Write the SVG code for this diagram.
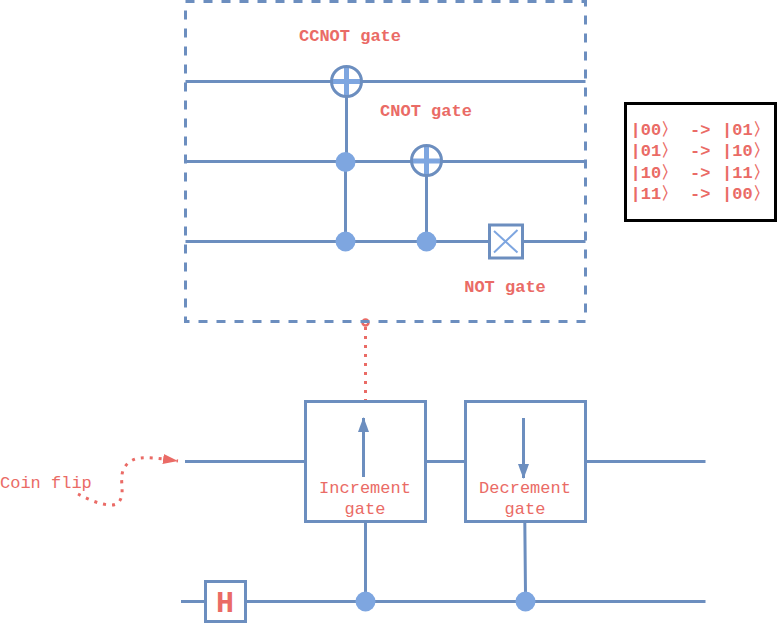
<svg xmlns="http://www.w3.org/2000/svg" width="778" height="623" viewBox="0 0 778 623">
<defs>
<marker id="tri" markerUnits="userSpaceOnUse" markerWidth="17" markerHeight="12" refX="14" refY="5.500" orient="auto"><path d="M0 0L15 5.500L0 11Z" fill="#6c8ebf" stroke="none"/></marker>
<marker id="trired" markerUnits="userSpaceOnUse" markerWidth="18" markerHeight="12" refX="15" refY="6" orient="auto"><path d="M0 1L15 6L0 11Z" fill="#ea6b66" stroke="none"/></marker>
</defs>
<style>
.w{fill:none;stroke:#6c8ebf;stroke-width:3}
.b{fill:#fff;stroke:#6c8ebf;stroke-width:3}
.d{fill:#7ea6e0;stroke:none}
.p{fill:none;stroke:#7ea6e0;stroke-width:5}
.o{fill:none;stroke:#6c8ebf;stroke-width:3}
.r{fill:none;stroke:#ea6b66;stroke-width:3;stroke-dasharray:3 6}
text{font-family:"Liberation Mono",monospace;fill:#ea6b66;font-size:17px;white-space:pre}
.h{font-weight:bold}
.m{text-anchor:middle}
</style>
<g id="connectors">
<path class="w" d="M185.500 81.500H585.500M185.500 161.500H585.500M185.500 241.500H489M522 241.500H585.500"/>
<path class="w" d="M346.500 96V155M345.500 170V233M426.500 175V233"/>
<path class="w" d="M185 461.500H305M426 461.500H465M586 461.500H705.500M181 601.500H205M246 601.500H705.500"/>
<path class="w" d="M365.500 522V593M524.800 522L525.500 593"/>
<path class="w" d="M363.500 477V418" marker-end="url(#tri)"/>
<path class="w" d="M523.500 418V478" marker-end="url(#tri)"/>
<path class="r" d="M365.500 402V326"/>
<circle cx="365.500" cy="322.500" r="3" fill="#fff" stroke="#ea6b66" stroke-width="2.500"/>
<path class="r" d="M78 494C88 499 100 505 111 505C118 505 121 501 122 494C122.500 487 121 480 122 475C123 466 130 459 140 458C148 457 160 458.500 178 461" marker-end="url(#trired)"/>
</g>
<g id="ccnot-frame"><rect x="185.500" y="1.500" width="400" height="320" fill="none" stroke="#6c8ebf" stroke-width="3" stroke-dasharray="9 9"/></g>
<g id="ccnot-target"><path class="p" d="M346.500 66V97M331 81.500H362"/><circle class="o" cx="346.500" cy="81.500" r="15"/></g>
<g id="cnot-target"><path class="p" d="M426.500 145V176M411 161H442"/><circle class="o" cx="426.500" cy="160.500" r="15"/></g>
<g id="dot-1"><circle class="d" cx="345.500" cy="162" r="10"/></g>
<g id="dot-2"><circle class="d" cx="345.500" cy="241.500" r="10"/></g>
<g id="dot-3"><circle class="d" cx="426.500" cy="241.500" r="10"/></g>
<g id="not-gate"><rect class="b" x="489.500" y="225" width="33" height="33"/><path d="M494 231L517.500 252.500M517.500 230L494 252.500" fill="none" stroke="#7ea6e0" stroke-width="2"/></g>
<g id="labels">
<text class="h m" x="350" y="41">CCNOT gate</text>
<text class="h m" x="426" y="116">CNOT gate</text>
<text class="h m" x="505" y="291.500">NOT gate</text>
</g>
<g id="truth-table"><rect x="625.500" y="103.500" width="150" height="117" fill="#fff" stroke="#000" stroke-width="3"/>
<text class="h" x="630.500" y="135">|00〉 <tspan x="690">-&gt;</tspan> <tspan x="722">|01〉</tspan></text>
<text class="h" x="630.500" y="156">|01〉 <tspan x="690">-&gt;</tspan> <tspan x="722">|10〉</tspan></text>
<text class="h" x="630.500" y="177.500">|10〉 <tspan x="690">-&gt;</tspan> <tspan x="722">|11〉</tspan></text>
<text class="h" x="630.500" y="199">|11〉 <tspan x="690">-&gt;</tspan> <tspan x="722">|00〉</tspan></text>
</g>
<g id="increment-gate"><rect class="w" x="305.500" y="401.500" width="120" height="120"/><text class="m" x="365" y="493">Increment</text><text class="m" x="365" y="513.500">gate</text></g>
<g id="decrement-gate"><rect class="w" x="465.500" y="401.500" width="120" height="120"/><text class="m" x="525" y="493">Decrement</text><text class="m" x="525" y="513.500">gate</text></g>
<g id="coin-flip"><text x="0" y="488">Coin flip</text></g>
<g id="h-gate"><rect class="b" x="205.500" y="581.500" width="40" height="40"/><text class="h m" x="225" y="611.500" style="font-size:30px">H</text></g>
<g id="dot-4"><circle class="d" cx="365.500" cy="601.500" r="10"/></g>
<g id="dot-5"><circle class="d" cx="525.500" cy="601.500" r="10"/></g>
</svg>
